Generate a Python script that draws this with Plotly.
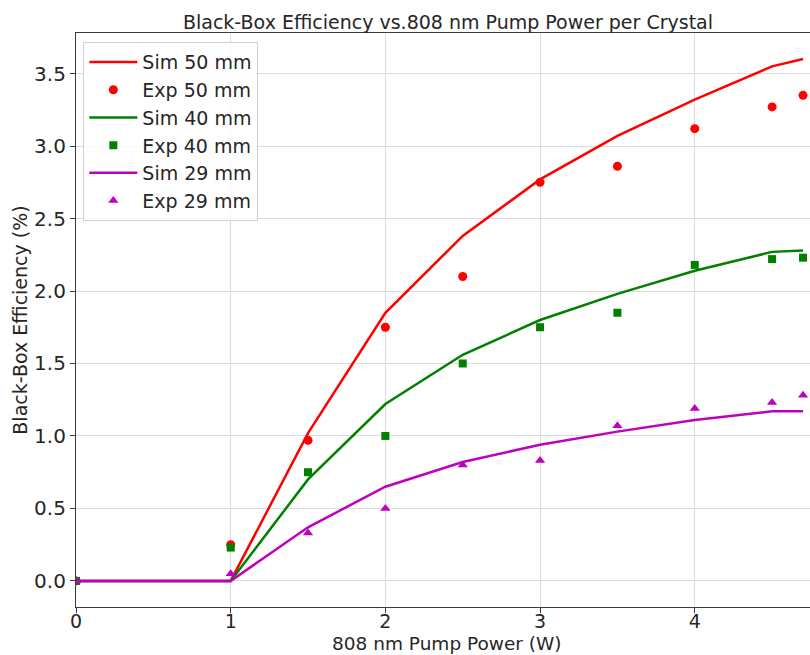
import plotly.graph_objects as go

x_sim = [0, 1, 1.5, 2, 2.5, 3, 3.5, 4, 4.5, 4.7]
x_exp = [0, 1, 1.5, 2, 2.5, 3, 3.5, 4, 4.5, 4.7]

sim_50 = [0, 0, 1.02, 1.85, 2.38, 2.77, 3.07, 3.32, 3.55, 3.60]
exp_50 = [0, 0.25, 0.97, 1.75, 2.10, 2.75, 2.86, 3.12, 3.27, 3.35]
sim_40 = [0, 0, 0.70, 1.22, 1.56, 1.80, 1.98, 2.14, 2.27, 2.28]
exp_40 = [0, 0.23, 0.75, 1.00, 1.50, 1.75, 1.85, 2.18, 2.22, 2.23]
sim_29 = [0, 0, 0.37, 0.65, 0.82, 0.94, 1.03, 1.11, 1.17, 1.17]
exp_29 = [0, 0.05, 0.33, 0.50, 0.80, 0.83, 1.07, 1.19, 1.23, 1.28]

x_ticks = [0, 1, 2, 3, 4]
y_ticks = [0, 0.5, 1, 1.5, 2, 2.5, 3, 3.5]
y_tick_labels = ["0.0", "0.5", "1.0", "1.5", "2.0", "2.5", "3.0", "3.5"]

RED = "#ff0000"
GREEN = "#008000"
MAG = "#bf00bf"
FONT = "DejaVu Sans"
TXT = "#262626"

fig = go.Figure()
fig.add_trace(go.Scatter(x=x_sim, y=sim_50, mode="lines", name="Sim 50 mm",
                         line=dict(color=RED, width=2.5)))
fig.add_trace(go.Scatter(x=x_exp, y=exp_50, mode="markers", name="Exp 50 mm",
                         marker=dict(color=RED, symbol="circle", size=9)))
fig.add_trace(go.Scatter(x=x_sim, y=sim_40, mode="lines", name="Sim 40 mm",
                         line=dict(color=GREEN, width=2.5)))
fig.add_trace(go.Scatter(x=x_exp, y=exp_40, mode="markers", name="Exp 40 mm",
                         marker=dict(color=GREEN, symbol="square", size=8)))
fig.add_trace(go.Scatter(x=x_sim, y=sim_29, mode="lines", name="Sim 29 mm",
                         line=dict(color=MAG, width=2.5)))
fig.add_trace(go.Scatter(x=x_exp, y=exp_29, mode="markers", name="Exp 29 mm",
                         marker=dict(color=MAG, symbol="triangle-up", size=9)))

fig.update_layout(
    width=810, height=655,
    margin=dict(l=76, r=0, t=33, b=48),
    plot_bgcolor="white", paper_bgcolor="white",
    font=dict(family=FONT, size=20, color=TXT),
    title=dict(text="Black-Box Efficiency vs.808 nm Pump Power per Crystal",
               x=448/810, xanchor="center", xref="container",
               y=1 - 22/655, yanchor="middle", yref="container",
               font=dict(family=FONT, size=19, color=TXT)),
    showlegend=True,
    legend=dict(x=0.01, y=0.984, xanchor="left", yanchor="top",
                bgcolor="rgba(255,255,255,0.85)", bordercolor="#d0d0d0",
                borderwidth=1, font=dict(family=FONT, size=19, color=TXT),
                tracegroupgap=0, itemwidth=48),
    annotations=[dict(text="808 nm Pump Power (W)", xref="paper", yref="paper",
                      x=(447 - 76) / 734, xanchor="center",
                      y=-(643 - 607) / 574, yanchor="middle", showarrow=False,
                      font=dict(family=FONT, size=18.5, color=TXT))],
)
fig.update_xaxes(
    range=[0, 4.745], tickvals=x_ticks, ticktext=[str(v) for v in x_ticks],
    showgrid=True, gridcolor="#dcdcdc", gridwidth=1,
    showline=True, linecolor="#3a3a3a", linewidth=1.2, mirror=True,
    ticks="outside", ticklen=5, tickcolor="#3a3a3a", ticklabelstandoff=-8,
    tickfont=dict(family=FONT, size=19, color=TXT),
    zeroline=False,
)
fig.update_yaxes(
    range=[-0.18, 3.78], tickvals=y_ticks, ticktext=y_tick_labels,
    showgrid=True, gridcolor="#dcdcdc", gridwidth=1,
    showline=True, linecolor="#3a3a3a", linewidth=1.2,
    ticks="outside", ticklen=5, tickcolor="#3a3a3a",
    tickfont=dict(family=FONT, size=20, color=TXT),
    zeroline=False,
    title=dict(text="Black-Box Efficiency (%)", font=dict(family=FONT, size=19, color=TXT),
               standoff=1),
)

fig.write_html("out.html")
